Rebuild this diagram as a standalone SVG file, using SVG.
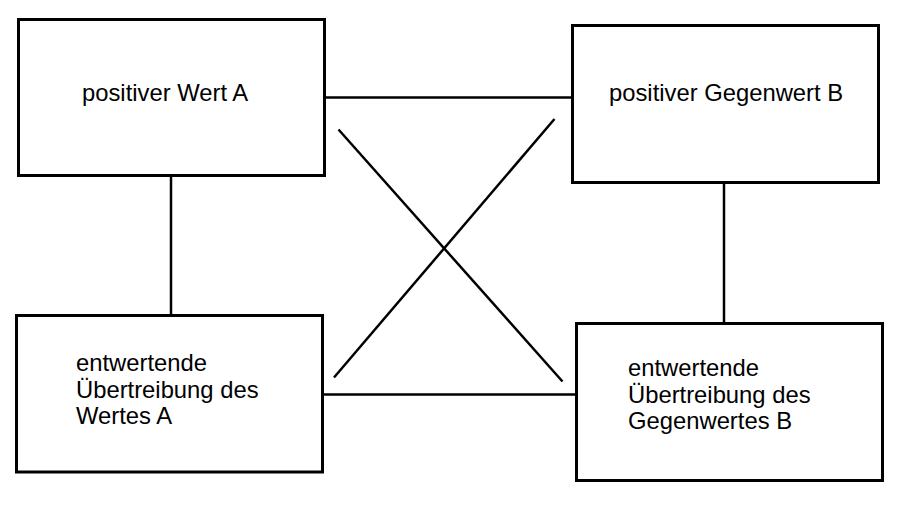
<svg xmlns="http://www.w3.org/2000/svg" width="907" height="515" viewBox="0 0 907 515">
<style>
.box{fill:#fff;stroke:#000;stroke-width:3}
.lbl{font-family:"Liberation Sans",Arial,sans-serif;font-size:23.8px;fill:#000}
.con{stroke:#000;stroke-width:2.5;fill:none}
</style>
<rect width="907" height="515" fill="#fff"/>
<g id="connectors">
<line class="con" x1="325" y1="97.5" x2="572" y2="97.5"/>
<line class="con" x1="171" y1="176" x2="171" y2="315"/>
<line class="con" x1="724" y1="183" x2="724" y2="323"/>
<line class="con" x1="321" y1="394.5" x2="576" y2="394.5"/>
<line class="con" x1="338.5" y1="129.5" x2="562.5" y2="381.5"/>
<line class="con" x1="334" y1="377.5" x2="554.5" y2="119"/>
</g>
<g id="nodeA">
<rect class="box" x="18.5" y="19.5" width="306" height="156"/>
<text class="lbl" x="82" y="101">positiver Wert A</text>
</g>
<g id="nodeB">
<rect class="box" x="572.5" y="25.5" width="306" height="157"/>
<text class="lbl" x="609" y="101">positiver Gegenwert B</text>
</g>
<g id="nodeC">
<rect class="box" x="16.5" y="315.5" width="306" height="156.5"/>
<text class="lbl" x="76" y="371">entwertende</text>
<text class="lbl" x="76" y="397.5">Übertreibung des</text>
<text class="lbl" x="76" y="424">Wertes A</text>
</g>
<g id="nodeD">
<rect class="box" x="576.5" y="323.5" width="306" height="157"/>
<text class="lbl" x="628" y="376">entwertende</text>
<text class="lbl" x="628" y="402.5">Übertreibung des</text>
<text class="lbl" x="628" y="429">Gegenwertes B</text>
</g>
</svg>
